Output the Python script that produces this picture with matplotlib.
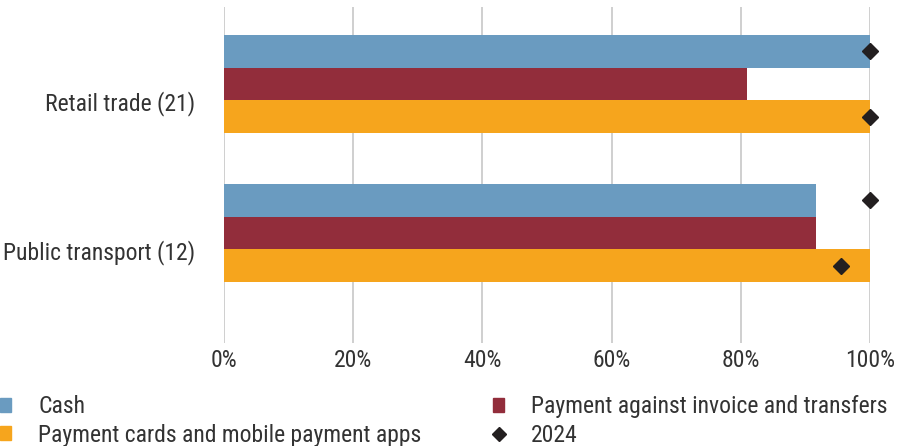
import matplotlib.pyplot as plt
import numpy as np
from matplotlib.patches import Patch
from matplotlib.lines import Line2D

# data
categories = ['Retail trade (21)', 'Public transport (12)']
cash = [100.0, 91.7]
invoice = [81.0, 91.7]
cards = [100.0, 100.0]
cash_2024 = [100.0, 100.0]
cards_2024 = [100.0, 95.5]
xticks = [0, 20, 40, 60, 80, 100]

series_names = ['Cash', 'Payment against invoice and transfers',
                'Payment cards and mobile payment apps']
colors = ['#6A9BC0', '#922D3B', '#F6A51D']
marker_color = '#231F20'
text_color = '#333333'

plt.rcParams['font.family'] = ['Roboto Condensed', 'DejaVu Sans']
fs = 17

fig = plt.figure(figsize=(8.99, 4.46), dpi=100)
ax = fig.add_axes([224 / 899, 1 - 343 / 446, (870 - 224) / 899, (343 - 7) / 446])

y = np.arange(len(categories))
h = 0.22
offsets = [-h, 0, h]
for vals, off, c in zip([cash, invoice, cards], offsets, colors):
    ax.barh(y + off, vals, height=h, color=c, zorder=2)

ax.plot(cash_2024, y - h, 'D', color=marker_color, ms=8.5, zorder=3, clip_on=False)
ax.plot(cards_2024, y + h, 'D', color=marker_color, ms=8.5, zorder=3, clip_on=False)

ax.set_xlim(0, 100)
ax.set_ylim(1.738, -0.517)
ax.set_xticks(xticks)
ax.set_xticklabels([f'{t}%' for t in xticks])
ax.set_yticks(y + 0.115)
ax.set_yticklabels(categories)
ax.grid(axis='x', color='#CCCCCC', lw=1.3, zorder=0)
for s in ax.spines.values():
    s.set_visible(False)
ax.tick_params(axis='both', length=0, labelsize=fs, colors=text_color)
ax.tick_params(axis='y', pad=21)
ax.tick_params(axis='x', pad=4)

h1 = [Patch(color=colors[0]), Patch(color=colors[2])]
l1 = [series_names[0], series_names[2]]
h2 = [Patch(color=colors[1]),
      Line2D([], [], marker='D', ls='none', color=marker_color, ms=7)]
l2 = [series_names[1], '2024']
kw = dict(frameon=False, loc='upper left', borderaxespad=0, borderpad=0,
          handlelength=0.47, handleheight=0.55, handletextpad=1.14,
          labelspacing=0.24, fontsize=fs, labelcolor=text_color)
fig.legend(h1, l1, bbox_to_anchor=(0.0, 1 - 395 / 446), **kw)
fig.legend(h2, l2, bbox_to_anchor=(493 / 899, 1 - 395 / 446), **kw)

fig.savefig('out.png', dpi=100)
